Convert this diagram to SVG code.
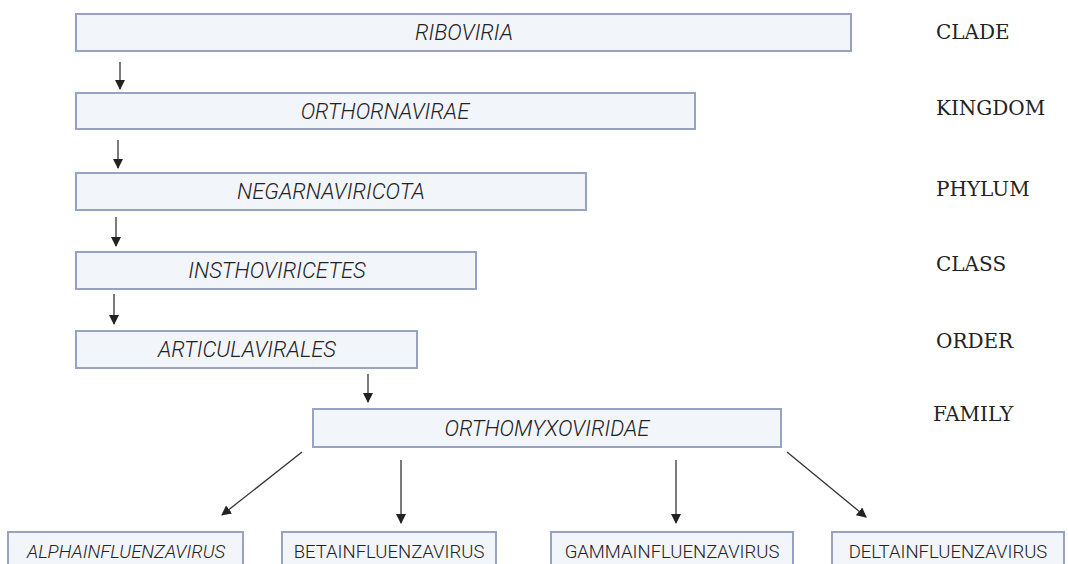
<svg xmlns="http://www.w3.org/2000/svg" width="1068" height="564" viewBox="0 0 1068 564">
<defs>
<style>
.box{fill:#f2f5fa;stroke:#98a3c3;stroke-width:2}
.t{font-family:Roboto,"Liberation Sans",sans-serif;font-weight:300;font-size:22px;fill:#222;text-anchor:middle}
.i{font-style:italic}
.s{font-size:18.5px}
.rank{font-family:"DejaVu Serif","Liberation Serif",serif;font-size:20px;fill:#222}
.c{stroke:#333;stroke-width:1.3;fill:none;marker-end:url(#ah)}
</style>
<marker id="ah" viewBox="0 0 10 10" refX="9" refY="5" markerWidth="10" markerHeight="10" markerUnits="userSpaceOnUse" orient="auto">
<path d="M0,0 L10,5 L0,10 z" fill="#222"/>
</marker>
</defs>
<rect width="1068" height="564" fill="#fff"/>
<g id="connectors">
<line class="c" x1="120" y1="62" x2="120" y2="89"/>
<line class="c" x1="118" y1="140" x2="118" y2="168"/>
<line class="c" x1="116" y1="217" x2="116" y2="246"/>
<line class="c" x1="114" y1="294" x2="114" y2="324"/>
<line class="c" x1="368" y1="374" x2="368" y2="402"/>
<line class="c" x1="302" y1="452" x2="222" y2="515"/>
<line class="c" x1="401" y1="460" x2="401" y2="523"/>
<line class="c" x1="676" y1="460" x2="676" y2="523"/>
<line class="c" x1="787" y1="452" x2="866" y2="517"/>
</g>
<g id="riboviria"><rect class="box" x="76" y="14" width="775" height="37"/><text class="t i" x="464" y="40">RIBOVIRIA</text></g>
<g id="orthornavirae"><rect class="box" x="76" y="93" width="619" height="36"/><text class="t i" x="385" y="119">ORTHORNAVIRAE</text></g>
<g id="negarnaviricota"><rect class="box" x="76" y="173" width="510" height="37"/><text class="t i" x="331" y="199">NEGARNAVIRICOTA</text></g>
<g id="insthoviricetes"><rect class="box" x="76" y="252" width="400" height="37"/><text class="t i" x="277" y="278">INSTHOVIRICETES</text></g>
<g id="articulavirales"><rect class="box" x="76" y="331" width="341" height="37"/><text class="t i" x="247" y="357">ARTICULAVIRALES</text></g>
<g id="orthomyxoviridae"><rect class="box" x="313" y="409" width="468" height="38"/><text class="t i" x="547" y="436">ORTHOMYXOVIRIDAE</text></g>
<g id="alpha"><rect class="box" x="8" y="532" width="235" height="40"/><text class="t s i" x="126" y="558">ALPHAINFLUENZAVIRUS</text></g>
<g id="beta"><rect class="box" x="282" y="532" width="214" height="40"/><text class="t s" x="389" y="558">BETAINFLUENZAVIRUS</text></g>
<g id="gamma"><rect class="box" x="551" y="532" width="242" height="40"/><text class="t s" x="672" y="558">GAMMAINFLUENZAVIRUS</text></g>
<g id="delta"><rect class="box" x="832" y="532" width="232" height="40"/><text class="t s" x="948" y="558">DELTAINFLUENZAVIRUS</text></g>
<g id="ranks">
<text class="rank" x="936" y="39">CLADE</text>
<text class="rank" x="936" y="115">KINGDOM</text>
<text class="rank" x="936" y="196">PHYLUM</text>
<text class="rank" x="936" y="271">CLASS</text>
<text class="rank" x="936" y="348">ORDER</text>
<text class="rank" x="933" y="421">FAMILY</text>
</g>
</svg>
